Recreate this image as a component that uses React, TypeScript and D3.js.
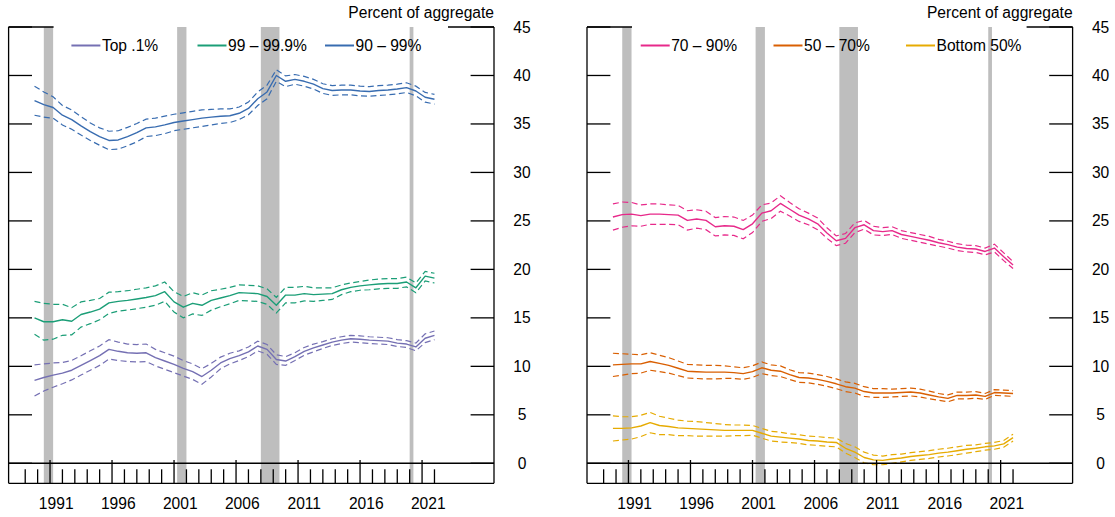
import React from "react";
import * as d3 from "d3";

const YEARS = [1989.75, 1990.5, 1991.25, 1992, 1992.75, 1993.5, 1994.25, 1995, 1995.75, 1996.5, 1997.25, 1998, 1998.75, 1999.5, 2000.25, 2001, 2001.75, 2002.5, 2003.25, 2004, 2004.75, 2005.5, 2006.25, 2007, 2007.75, 2008.5, 2009.25, 2010, 2010.75, 2011.5, 2012.25, 2013, 2013.75, 2014.5, 2015.25, 2016, 2016.75, 2017.5, 2018.25, 2019, 2019.75, 2020.5, 2021.25, 2022];

const TOP01 = [8.55, 8.85, 9.1, 9.3, 9.6, 10.1, 10.6, 11.1, 11.75, 11.55, 11.4, 11.35, 11.4, 10.9, 10.55, 10.2, 9.8, 9.45, 8.95, 9.6, 10.35, 10.8, 11.1, 11.5, 12.1, 11.75, 10.7, 10.55, 11.0, 11.55, 11.9, 12.2, 12.5, 12.7, 12.85, 12.8, 12.7, 12.65, 12.6, 12.4, 12.3, 12.0, 12.9, 13.2];
const TOP01_CI = [1.6, 1.4, 1.25, 1.1, 1.0, 1.0, 1.0, 1.0, 1.0, 0.95, 0.9, 0.9, 0.9, 0.85, 0.85, 0.85, 0.8, 0.8, 0.8, 0.7, 0.6, 0.55, 0.5, 0.5, 0.5, 0.5, 0.5, 0.45, 0.4, 0.4, 0.4, 0.35, 0.35, 0.35, 0.35, 0.35, 0.35, 0.35, 0.35, 0.35, 0.35, 0.4, 0.45, 0.45];

const P99 = [15.0, 14.6, 14.6, 14.8, 14.65, 15.35, 15.6, 15.9, 16.55, 16.7, 16.8, 16.95, 17.1, 17.3, 17.7, 16.65, 16.1, 16.5, 16.3, 16.8, 17.05, 17.3, 17.6, 17.55, 17.5, 17.2, 16.3, 17.35, 17.35, 17.5, 17.4, 17.45, 17.5, 17.9, 18.15, 18.3, 18.4, 18.5, 18.55, 18.55, 18.7, 18.1, 19.3, 19.1];
const P99_CI = [1.7, 1.9, 1.8, 1.6, 1.4, 1.3, 1.2, 1.1, 1.1, 1.0, 1.0, 1.0, 1.0, 1.0, 1.0, 1.05, 1.1, 1.1, 1.05, 1.0, 0.9, 0.85, 0.8, 0.8, 0.8, 0.8, 0.8, 0.8, 0.8, 0.75, 0.7, 0.65, 0.6, 0.5, 0.45, 0.45, 0.5, 0.5, 0.5, 0.5, 0.5, 0.5, 0.5, 0.5];

const P90 = [37.4, 37.0, 36.7, 35.9, 35.45, 34.8, 34.2, 33.7, 33.3, 33.35, 33.7, 34.1, 34.6, 34.7, 34.9, 35.15, 35.3, 35.45, 35.6, 35.7, 35.8, 35.85, 36.1, 36.6, 37.6, 38.3, 40.0, 39.4, 39.6, 39.4, 39.1, 38.65, 38.45, 38.5, 38.5, 38.4, 38.35, 38.45, 38.5, 38.6, 38.75, 38.4, 37.75, 37.55];
const P90_CI = [1.5, 1.3, 1.1, 1.0, 1.0, 0.95, 0.9, 0.9, 0.95, 0.95, 0.95, 0.95, 0.9, 0.9, 0.9, 0.85, 0.85, 0.85, 0.85, 0.8, 0.75, 0.7, 0.65, 0.65, 0.7, 0.7, 0.6, 0.55, 0.5, 0.5, 0.5, 0.5, 0.5, 0.5, 0.5, 0.5, 0.5, 0.5, 0.5, 0.5, 0.5, 0.5, 0.5, 0.5];

const P70 = [25.4, 25.65, 25.7, 25.55, 25.7, 25.7, 25.65, 25.6, 25.05, 25.2, 25.05, 24.4, 24.5, 24.45, 24.1, 24.7, 25.8, 26.05, 26.8, 26.2, 25.6, 25.2, 24.7, 23.75, 22.95, 23.2, 24.3, 24.6, 24.0, 23.9, 24.0, 23.6, 23.4, 23.2, 23.0, 22.75, 22.55, 22.3, 22.15, 22.1, 21.85, 22.2, 21.3, 20.45];
const P70_CI = [1.35, 1.3, 1.2, 1.1, 1.05, 1.05, 1.0, 1.0, 1.0, 0.95, 0.95, 0.95, 0.95, 0.95, 0.95, 0.9, 0.85, 0.8, 0.8, 0.7, 0.65, 0.6, 0.6, 0.55, 0.5, 0.5, 0.5, 0.45, 0.45, 0.4, 0.4, 0.4, 0.4, 0.4, 0.4, 0.35, 0.35, 0.35, 0.35, 0.35, 0.35, 0.4, 0.4, 0.35];

const P50 = [10.15, 10.2, 10.25, 10.25, 10.5, 10.3, 10.1, 9.8, 9.5, 9.45, 9.4, 9.4, 9.4, 9.35, 9.25, 9.45, 9.85, 9.6, 9.5, 9.15, 8.85, 8.8, 8.65, 8.45, 8.2, 7.9, 7.75, 7.4, 7.25, 7.25, 7.25, 7.3, 7.35, 7.25, 7.05, 6.85, 6.7, 7.0, 7.0, 7.05, 6.9, 7.3, 7.25, 7.2];
const P50_CI = [1.2, 1.1, 1.0, 0.95, 0.9, 0.85, 0.8, 0.75, 0.7, 0.7, 0.7, 0.7, 0.65, 0.6, 0.6, 0.6, 0.6, 0.55, 0.55, 0.5, 0.5, 0.5, 0.5, 0.5, 0.5, 0.5, 0.5, 0.5, 0.45, 0.45, 0.4, 0.4, 0.4, 0.4, 0.4, 0.35, 0.35, 0.35, 0.35, 0.35, 0.3, 0.3, 0.3, 0.3];

const BOTTOM50 = [3.6, 3.6, 3.65, 3.85, 4.2, 3.9, 3.8, 3.65, 3.6, 3.55, 3.5, 3.45, 3.4, 3.4, 3.4, 3.4, 3.1, 2.8, 2.7, 2.6, 2.5, 2.35, 2.3, 2.2, 2.15, 1.55, 1.15, 0.6, 0.35, 0.3, 0.45, 0.55, 0.7, 0.8, 0.9, 1.05, 1.15, 1.3, 1.45, 1.55, 1.7, 1.8, 2.0, 2.65];
const BOTTOM50_CI = [1.3, 1.2, 1.15, 1.1, 1.05, 0.95, 0.85, 0.8, 0.75, 0.75, 0.7, 0.65, 0.6, 0.55, 0.55, 0.5, 0.5, 0.5, 0.5, 0.45, 0.45, 0.45, 0.45, 0.45, 0.45, 0.5, 0.55, 0.55, 0.5, 0.45, 0.45, 0.4, 0.4, 0.4, 0.4, 0.4, 0.4, 0.4, 0.4, 0.35, 0.35, 0.35, 0.35, 0.35];

const RECESSIONS: [number, number][] = [[1990.5, 1991.25], [2001.25, 2002.0], [2008.0, 2009.5], [2020.0, 2020.3]];
const Y_TICKS = [0, 5, 10, 15, 20, 25, 30, 35, 40, 45];
const MINOR_YEARS = d3.range(1989, 2023);
const MAJOR_YEARS = [1991, 1996, 2001, 2006, 2011, 2016, 2021];
const UNIT_LABEL = "Percent of aggregate";

type Series = { name: string; color: string; values: number[]; ci: number[] };

const LEFT_SERIES: Series[] = [
  { name: "Top .1%", color: "#7570b3", values: TOP01, ci: TOP01_CI },
  { name: "99 – 99.9%", color: "#1b9e77", values: P99, ci: P99_CI },
  { name: "90 – 99%", color: "#386cb0", values: P90, ci: P90_CI },
];
const RIGHT_SERIES: Series[] = [
  { name: "70 – 90%", color: "#e7298a", values: P70, ci: P70_CI },
  { name: "50 – 70%", color: "#d95f02", values: P50, ci: P50_CI },
  { name: "Bottom 50%", color: "#e6ab02", values: BOTTOM50, ci: BOTTOM50_CI },
];

const TOP = 27;
const ZERO = 463.3;
const BOTTOM = 483.3;
const FONT = "'Liberation Sans', Arial, Helvetica, sans-serif";
const FS = 15.6;

function Panel({ x0, x1, series, legendX }: { x0: number; x1: number; series: Series[]; legendX: number[] }) {
  const x = d3.scaleLinear().domain([1987.66, 2026.8]).range([x0, x1]);
  const y = d3.scaleLinear().domain([0, 45]).range([ZERO, TOP]);
  const line = d3.line<number>().x((_, i) => x(YEARS[i])).y((v) => y(v)).curve(d3.curveLinear);
  const tickLen = 23.4;
  const sw = 1.3;
  return (
    <g>
      {RECESSIONS.map(([a, b], i) => (
        <rect key={i} x={x(a)} y={TOP} width={x(b) - x(a)} height={BOTTOM - TOP} fill="#bebebe" />
      ))}
      {series.map((s) => (
        <g key={s.name}>
          <path d={line(s.values.map((v, i) => v + s.ci[i])) || ""} fill="none" stroke={s.color} strokeWidth={1.2} strokeDasharray="6,3.5" />
          <path d={line(s.values.map((v, i) => v - s.ci[i])) || ""} fill="none" stroke={s.color} strokeWidth={1.2} strokeDasharray="6,3.5" />
          <path d={line(s.values) || ""} fill="none" stroke={s.color} strokeWidth={1.4} strokeLinejoin="round" />
        </g>
      ))}
      <line x1={x0} x2={x0} y1={TOP} y2={BOTTOM} stroke="#000" strokeWidth={sw} />
      <line x1={x1} x2={x1} y1={TOP} y2={BOTTOM} stroke="#000" strokeWidth={sw} />
      <line x1={x0} x2={x1} y1={BOTTOM} y2={BOTTOM} stroke="#000" strokeWidth={sw} />
      <line x1={x0} x2={x1} y1={ZERO} y2={ZERO} stroke="#000" strokeWidth={1.6} />
      <line x1={x0} x2={x0 + 45} y1={TOP} y2={TOP} stroke="#000" strokeWidth={sw} />
      <line x1={x1 - 46} x2={x1} y1={TOP} y2={TOP} stroke="#000" strokeWidth={sw} />
      {Y_TICKS.map((t) => (
        <g key={t}>
          <line x1={x0} x2={x0 + tickLen} y1={y(t)} y2={y(t)} stroke="#000" strokeWidth={sw} />
          <line x1={x1 - tickLen} x2={x1} y1={y(t)} y2={y(t)} stroke="#000" strokeWidth={sw} />
          <text x={x1 + 28} y={y(t)} textAnchor="middle" dominantBaseline="central" fontSize={FS} fontFamily={FONT} fill="#000">{t}</text>
        </g>
      ))}
      {MINOR_YEARS.map((yr) => (
        <line key={yr} x1={x(yr)} x2={x(yr)} y1={BOTTOM} y2={MAJOR_YEARS.includes(yr) ? ZERO - 3.3 : BOTTOM - 14} stroke="#000" strokeWidth={sw} />
      ))}
      {MAJOR_YEARS.map((yr) => (
        <text key={yr} x={x(yr + 0.5)} y={503.5} textAnchor="middle" dominantBaseline="central" fontSize={FS} fontFamily={FONT} fill="#000">{yr}</text>
      ))}
      <text x={x1} y={18} textAnchor="end" fontSize={FS} fontFamily={FONT} fill="#000">{UNIT_LABEL}</text>
      {series.map((s, i) => (
        <g key={s.name}>
          <line x1={legendX[i]} x2={legendX[i] + 29} y1={45.5} y2={45.5} stroke={s.color} strokeWidth={2} />
          <text x={legendX[i] + 30.5} y={45.5} dominantBaseline="central" fontSize={FS} fontFamily={FONT} fill="#000">{s.name}</text>
        </g>
      ))}
    </g>
  );
}

export default function App() {
  return (
    <svg width={1115} height={517} style={{ position: "fixed", left: 0, top: 0, background: "#fff" }}>
      <rect x={0} y={0} width={1115} height={517} fill="#fff" />
      <Panel x0={8.6} x1={494} series={LEFT_SERIES} legendX={[71.4, 197.5, 325]} />
      <Panel x0={587} x1={1072.6} series={RIGHT_SERIES} legendX={[640.7, 773.5, 906]} />
    </svg>
  );
}
